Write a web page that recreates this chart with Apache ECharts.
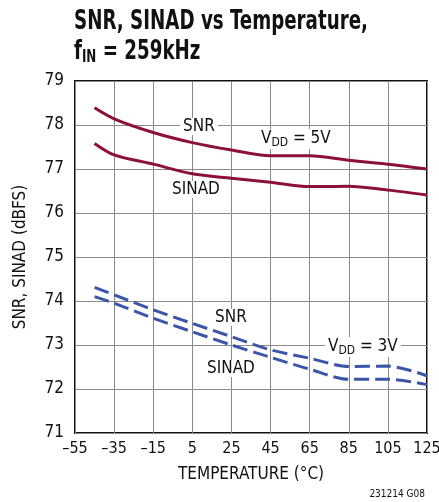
<!DOCTYPE html>
<html>
<head>
<meta charset="utf-8">
<script src="https://cdn.jsdelivr.net/npm/echarts@6/dist/echarts.min.js"></script>
<style>
    html, body { margin: 0; padding: 0; background: #fff; }
    #chart { width: 439px; height: 502px; }
</style>
</head>
<body>
<div id="chart"></div>
<script>
    var temps = [-45, -35, -15, 5, 25, 45, 65, 85, 105, 125];
    var snr5 = [78.39, 78.14, 77.83, 77.6, 77.43, 77.3, 77.3, 77.2, 77.11, 77.0];
    var sinad5 = [77.58, 77.32, 77.11, 76.89, 76.79, 76.7, 76.6, 76.61, 76.52, 76.41];
    var snr3 = [74.31, 74.14, 73.8, 73.49, 73.19, 72.89, 72.7, 72.51, 72.52, 72.3];
    var sinad3 = [74.1, 73.95, 73.61, 73.3, 73.0, 72.72, 72.45, 72.22, 72.22, 72.1];
    var xMin = -55, xMax = 125, xStep = 20;
    var yMin = 71, yMax = 79, yStep = 1;

    var font = "'DejaVu Sans Condensed', 'Liberation Sans', sans-serif";
    var red = '#8c1038';
    var blue = '#3b55a8';

    // x axis is shifted so ticks start at 0 (interval must divide min)
    function pts(vals) {
        return temps.map(function (t, i) { return [t - xMin, vals[i]]; });
    }
    function dash(s) { return String(s).replace('-', '\u2013'); }

    var chart = echarts.init(document.getElementById('chart'));

    function lbl(x, y, text) {
        return {
            type: 'text', left: x, top: y, z: 10,
            style: {
                text: text, font: '17px ' + font, fill: '#111',
                backgroundColor: '#fff', padding: [0, 3],
                rich: {
                    n: { fontSize: 17, fontFamily: font, color: '#111', backgroundColor: '#fff' },
                    s: { fontSize: 12, fontFamily: font, color: '#111', verticalAlign: 'bottom', padding: [8, 0, 0, 0], backgroundColor: '#fff' }
                }
            }
        };
    }

    var option = {
        animation: false,
        grid: {
            left: 75, right: 12, top: 81, bottom: 69,
            outerBoundsMode: 'none', containLabel: false,
            show: true, borderColor: '#111', borderWidth: 2
        },
        xAxis: {
            type: 'value', min: 0, max: xMax - xMin, interval: xStep,
            name: 'TEMPERATURE (\u00b0C)', nameLocation: 'middle', nameGap: 33,
            nameTextStyle: { fontSize: 17, fontFamily: font, color: '#111' },
            axisLine: { show: false }, axisTick: { show: false },
            axisLabel: {
                fontSize: 16, fontFamily: font, color: '#111', margin: 8,
                formatter: function (v) { return dash(v + xMin); }
            },
            splitLine: { show: true, lineStyle: { color: '#8a8a8a', width: 1 } }
        },
        yAxis: {
            type: 'value', min: yMin, max: yMax, interval: yStep,
            name: 'SNR, SINAD (dBFS)', nameLocation: 'middle', nameGap: 46,
            nameTextStyle: { fontSize: 17, fontFamily: font, color: '#111' },
            axisLine: { show: false }, axisTick: { show: false },
            axisLabel: { fontSize: 17, fontFamily: font, color: '#111', margin: 11 },
            splitLine: { show: true, lineStyle: { color: '#8a8a8a', width: 1 } }
        },
        graphic: [
            {
                type: 'text', x: 74, y: 7, scaleX: 0.78,
                style: {
                    text: '{b|SNR, SINAD vs Temperature,}\n{b|f}{s|IN}{b| = 259kHz}',
                    rich: {
                        b: { fontSize: 26, fontWeight: 'bold', fontFamily: font, fill: '#111', lineHeight: 30 },
                        s: { fontSize: 17, fontWeight: 'bold', fontFamily: font, fill: '#111', padding: [12, 0, 0, 0], lineHeight: 30 }
                    }
                }
            },
            lbl(180, 118, 'SNR'),
            lbl(258, 129, '{n|V}{s|DD}{n| = 5V}'),
            lbl(169, 181, 'SINAD'),
            lbl(212, 309, 'SNR'),
            lbl(204, 360, 'SINAD'),
            lbl(325, 337, '{n|V}{s|DD}{n| = 3V}'),
            {
                type: 'text', right: 14, bottom: 3,
                style: { text: '231214 G08', font: '10px ' + font, fill: '#111' }
            }
        ],
        series: [
            { name: 'SNR 5V', data: pts(snr5), color: red, lineStyle: { width: 3, color: red } },
            { name: 'SINAD 5V', data: pts(sinad5), color: red, lineStyle: { width: 3, color: red } },
            { name: 'SNR 3V', data: pts(snr3), color: blue, lineStyle: { width: 3, color: blue, type: [15, 6] } },
            { name: 'SINAD 3V', data: pts(sinad3), color: blue, lineStyle: { width: 3, color: blue, type: [15, 6] } }
        ].map(function (s) {
            s.type = 'line';
            s.smooth = 0.3;
            s.showSymbol = false;
            s.symbol = 'none';
            s.z = 3;
            return s;
        })
    };
    chart.setOption(option);
</script>
</body>
</html>
